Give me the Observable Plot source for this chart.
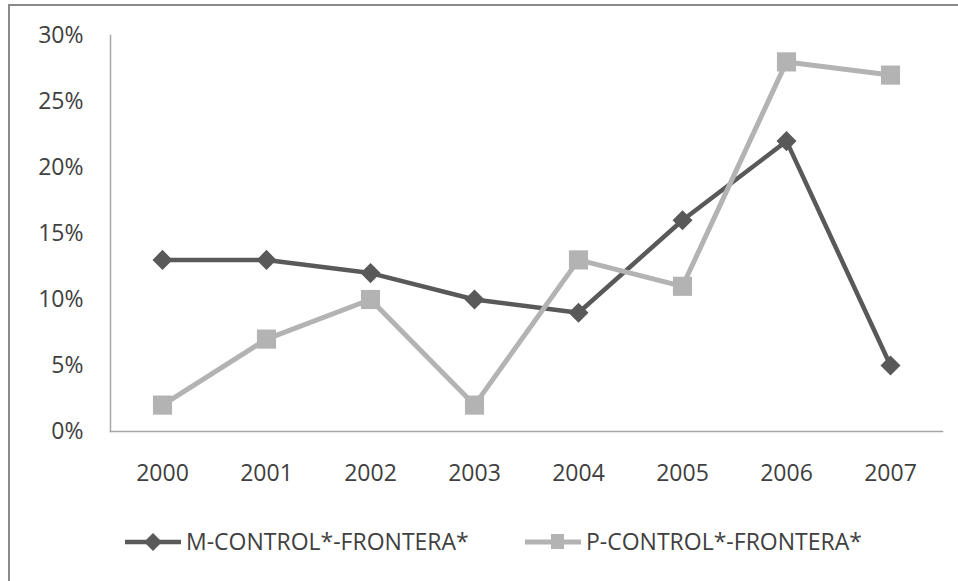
<!DOCTYPE html>
<html>
<head>
<meta charset="utf-8">
<script src="https://cdn.jsdelivr.net/npm/d3@7"></script>
<script src="https://cdn.jsdelivr.net/npm/@observablehq/plot@0.6"></script>
<style>
  html, body { margin: 0; padding: 0; background: #fff; }
  #wrap { position: relative; width: 958px; height: 581px; overflow: hidden; font-family: "Open Sans", sans-serif; }
  #border { position: absolute; left: 8px; top: 4px; width: 1000px; height: 700px; border-top: 2px solid #8a8a8a; border-left: 2px solid #8a8a8a; }
  #chart { position: absolute; left: 0; top: 0; }
  .leg { position: absolute; top: 527px; height: 28px; display: flex; align-items: center; font-size: 23px; color: #404040; white-space: nowrap; }
  .leg svg { display: block; }
</style>
</head>
<body>
<div id="wrap">
  <div id="border"></div>
  <div id="chart"></div>
  <div class="leg" id="legM" style="left:124px"></div>
  <div class="leg" id="legP" style="left:524px"></div>
</div>
<script>
const years = ["2000","2001","2002","2003","2004","2005","2006","2007"];
const seriesNames = ["M-CONTROL*-FRONTERA*", "P-CONTROL*-FRONTERA*"];
const mValues = [0.13, 0.13, 0.12, 0.10, 0.09, 0.16, 0.22, 0.05];
const pValues = [0.02, 0.07, 0.10, 0.02, 0.13, 0.11, 0.28, 0.27];
const yTicks = [0, 0.05, 0.10, 0.15, 0.20, 0.25, 0.30];
const colors = ["#595959", "#b3b3b3"];

const mData = years.map((y, i) => ({year: y, value: mValues[i]}));
const pData = years.map((y, i) => ({year: y, value: pValues[i]}));

const chart = Plot.plot({
  width: 958,
  height: 500,
  marginLeft: 110,
  marginRight: 16,
  marginTop: 35,
  marginBottom: 69,
  style: {fontFamily: "Open Sans, sans-serif", fontSize: "23px", color: "#404040", background: "transparent", overflow: "visible"},
  x: {type: "point", domain: years, padding: 0.5},
  y: {domain: [0, 0.30]},
  marks: [
    Plot.frame({anchor: "left", stroke: "#a6a6a6", strokeWidth: 1.5}),
    Plot.frame({anchor: "bottom", stroke: "#a6a6a6", strokeWidth: 1.5}),
    Plot.axisY({ticks: yTicks, tickFormat: d3.format(".0%"), tickSize: 0, tickPadding: 27, label: null, fill: "#404040"}),
    Plot.axisX({tickSize: 0, tickPadding: 33, label: null, fill: "#404040"}),
    Plot.line(mData, {x: "year", y: "value", stroke: colors[0], strokeWidth: 4.5}),
    Plot.dot(mData, {x: "year", y: "value", symbol: "square", r: 8, rotate: 45, fill: colors[0], stroke: "none"}),
    Plot.line(pData, {x: "year", y: "value", stroke: colors[1], strokeWidth: 5}),
    Plot.dot(pData, {x: "year", y: "value", symbol: "square", r: 10.8, fill: colors[1], stroke: "none"})
  ]
});
document.getElementById("chart").appendChild(chart);

// Legend
function legendItem(el, name, color, kind) {
  const svgNS = "http://www.w3.org/2000/svg";
  const svg = document.createElementNS(svgNS, "svg");
  svg.setAttribute("width", 60);
  svg.setAttribute("height", 28);
  const line = document.createElementNS(svgNS, "line");
  line.setAttribute("x1", 1); line.setAttribute("x2", 57);
  line.setAttribute("y1", 15); line.setAttribute("y2", 15);
  line.setAttribute("stroke", color); line.setAttribute("stroke-width", kind === "diamond" ? 4.5 : 5);
  svg.appendChild(line);
  const sym = document.createElementNS(svgNS, "path");
  if (kind === "diamond") {
    sym.setAttribute("d", "M29,6L38,15L29,24L20,15Z");
  } else {
    sym.setAttribute("d", "M27,7H40V22H27Z");
  }
  sym.setAttribute("fill", color);
  svg.appendChild(sym);
  el.appendChild(svg);
  const span = document.createElement("span");
  span.textContent = name;
  span.style.marginLeft = "2px";
  el.appendChild(span);
}
legendItem(document.getElementById("legM"), seriesNames[0], colors[0], "diamond");
legendItem(document.getElementById("legP"), seriesNames[1], colors[1], "square");
</script>
</body>
</html>
